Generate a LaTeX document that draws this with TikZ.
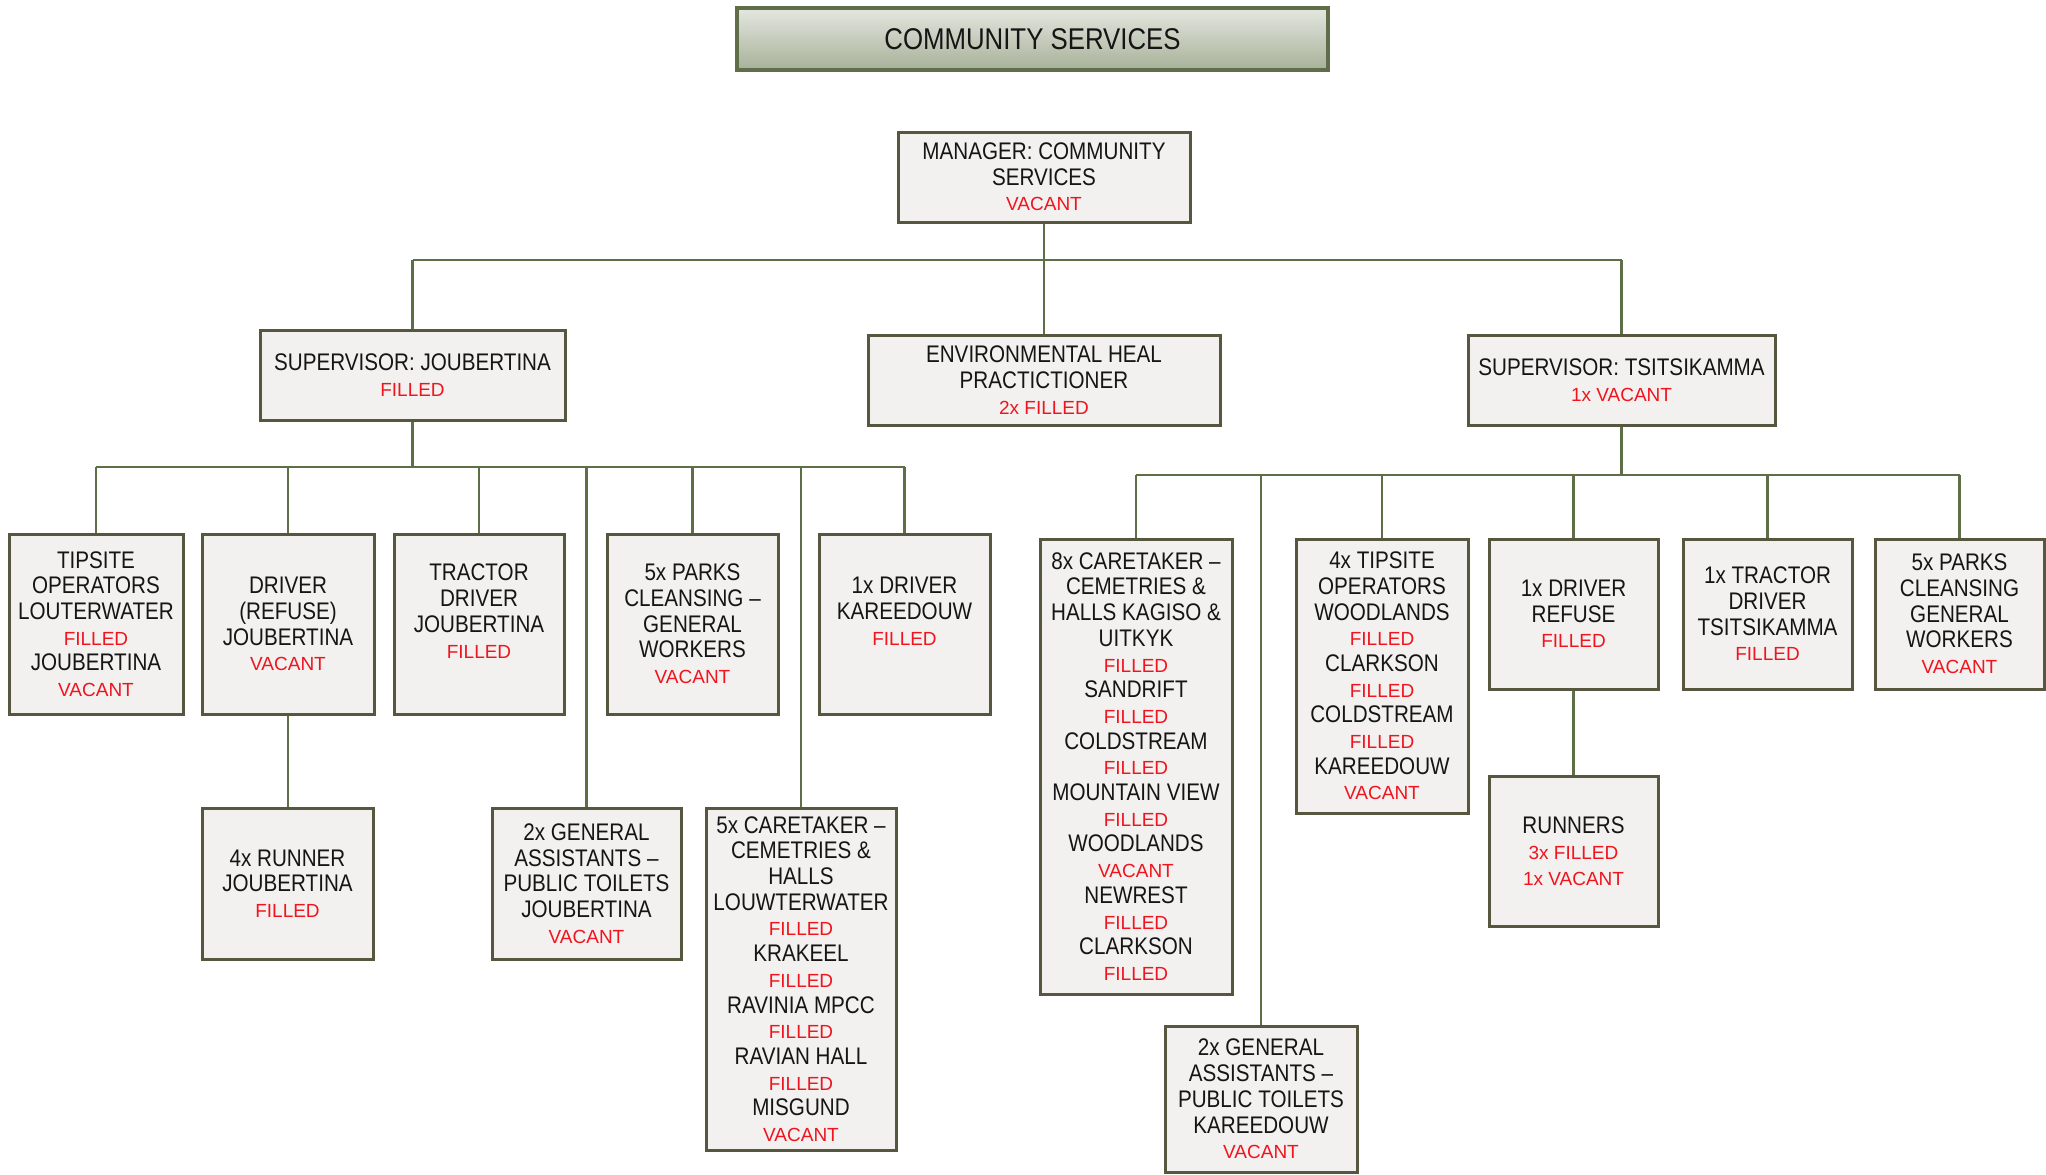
\documentclass[tikz,border=0pt]{standalone}
\usepackage{fontspec}
\setmainfont{Liberation Sans}[FakeStretch=0.86]
\newfontfamily\statusfont{Liberation Sans}
\definecolor{boxfill}{HTML}{F2F1EF}
\definecolor{boxline}{HTML}{57573F}
\definecolor{linkgreen}{HTML}{5E6E46}
\definecolor{titletop}{HTML}{E4E7E0}
\definecolor{titlebottom}{HTML}{A7B199}
\definecolor{titleline}{HTML}{5F6E48}
\definecolor{statred}{HTML}{F0141E}
\definecolor{ink}{HTML}{151515}
\newcommand\status[1]{{\statusfont\fontsize{9.5}{12.85}\selectfont\color{statred}#1}}
\pgfdeclarelayer{background}
\pgfsetlayers{background,main}
\tikzset{
  orgbox/.style={draw=boxline, line width=1.5pt, fill=boxfill, align=center,
    inner sep=1pt, text=ink, font=\fontsize{12}{12.85}\selectfont},
  titlebox/.style={draw=titleline, line width=1.6pt, top color=titletop,
    bottom color=titlebottom, text=ink, font=\fontsize{15}{18}\selectfont},
  link/.style={draw=linkgreen, line width=1.2pt},
}
\begin{document}
\begin{tikzpicture}[x=0.5pt, y=-0.5pt]
\useasboundingbox (0,0) rectangle (2046,1174);

% heading
\node[titlebox, minimum width=295.5pt, minimum height=31pt] (title) at (1032.5,39) {COMMUNITY SERVICES};

% top levels
\node[orgbox, minimum width=146pt, minimum height=45pt] (man) at (1044,177)
  {MANAGER: COMMUNITY\\SERVICES\\\status{VACANT}};
\node[orgbox, minimum width=152.5pt, minimum height=45pt] (supJ) at (412.5,375)
  {SUPERVISOR: JOUBERTINA\\\status{FILLED}};
\node[orgbox, minimum width=176pt, minimum height=45pt] (env) at (1044,380)
  {ENVIRONMENTAL HEAL\\PRACTICTIONER\\\status{2x FILLED}};
\node[orgbox, minimum width=153.5pt, minimum height=45pt] (supT) at (1621.5,380)
  {SUPERVISOR: TSITSIKAMMA\\\status{1x VACANT}};

% Joubertina branch
\node[orgbox, minimum width=87pt, minimum height=90pt] (tipJ) at (96,624)
  {TIPSITE\\OPERATORS\\LOUTERWATER\\\status{FILLED}\\JOUBERTINA\\\status{VACANT}};
\node[orgbox, minimum width=86pt, minimum height=90pt] (drvJ) at (288,624)
  {DRIVER\\(REFUSE)\\JOUBERTINA\\\status{VACANT}};
\node[orgbox, minimum width=85pt, minimum height=90pt] (traJ) at (479,624)
  {TRACTOR\\DRIVER\\JOUBERTINA\\\status{FILLED}\\\mbox{}};
\node[orgbox, minimum width=85.5pt, minimum height=90pt] (parkJ) at (692.5,624)
  {5x PARKS\\CLEANSING –\\GENERAL\\WORKERS\\\status{VACANT}};
\node[orgbox, minimum width=85.5pt, minimum height=90pt] (drvK) at (904.5,624)
  {1x DRIVER\\KAREEDOUW\\\status{FILLED}\\\mbox{}};
\node[orgbox, minimum width=85.5pt, minimum height=75.5pt] (runJ) at (287.5,883.5)
  {4x RUNNER\\JOUBERTINA\\\status{FILLED}};
\node[orgbox, minimum width=94.5pt, minimum height=75.5pt] (gaJ) at (586.5,883.5)
  {2x GENERAL\\ASSISTANTS –\\PUBLIC TOILETS\\JOUBERTINA\\\status{VACANT}};
\node[orgbox, minimum width=95pt, minimum height=171pt] (careJ) at (801,979)
  {5x CARETAKER –\\CEMETRIES \&\\HALLS\\LOUWTERWATER\\\status{FILLED}\\KRAKEEL\\\status{FILLED}\\RAVINIA MPCC\\\status{FILLED}\\RAVIAN HALL\\\status{FILLED}\\MISGUND\\\status{VACANT}};

% Tsitsikamma branch
\node[orgbox, minimum width=96pt, minimum height=227.5pt] (careT) at (1136,766.5)
  {8x CARETAKER –\\CEMETRIES \&\\HALLS KAGISO \&\\UITKYK\\\status{FILLED}\\SANDRIFT\\\status{FILLED}\\COLDSTREAM\\\status{FILLED}\\MOUNTAIN VIEW\\\status{FILLED}\\WOODLANDS\\\status{VACANT}\\NEWREST\\\status{FILLED}\\CLARKSON\\\status{FILLED}};
\node[orgbox, minimum width=96pt, minimum height=73pt] (gaK) at (1261,1099)
  {2x GENERAL\\ASSISTANTS –\\PUBLIC TOILETS\\KAREEDOUW\\\status{VACANT}};
\node[orgbox, minimum width=86pt, minimum height=137pt] (tipT) at (1382,676)
  {4x TIPSITE\\OPERATORS\\WOODLANDS\\\status{FILLED}\\CLARKSON\\\status{FILLED}\\COLDSTREAM\\\status{FILLED}\\KAREEDOUW\\\status{VACANT}};
\node[orgbox, minimum width=84.5pt, minimum height=75pt] (drvT) at (1573.5,614)
  {1x DRIVER\\REFUSE\\\status{FILLED}};
\node[orgbox, minimum width=84.5pt, minimum height=75pt] (runT) at (1573.5,851)
  {RUNNERS\\\status{3x FILLED}\\\status{1x VACANT}};
\node[orgbox, minimum width=84.5pt, minimum height=75pt] (traT) at (1767.5,614)
  {1x TRACTOR\\DRIVER\\TSITSIKAMMA\\\status{FILLED}};
\node[orgbox, minimum width=84.5pt, minimum height=75pt] (parkT) at (1959.5,614)
  {5x PARKS\\CLEANSING\\GENERAL\\WORKERS\\\status{VACANT}};

% connector buses
\coordinate (topbus) at (0,260);
\coordinate (jbus) at (0,467);
\coordinate (tbus) at (0,475);

\begin{pgfonlayer}{background}
  \draw[link] (man.south) -- (env.north);
  \draw[link] (supJ.north |- topbus) -- (supT.north |- topbus);
  \draw[link] (supJ.north) -- (supJ.north |- topbus);
  \draw[link] (supT.north) -- (supT.north |- topbus);

  \draw[link] (supJ.south) -- (supJ.south |- jbus);
  \draw[link] (tipJ.north |- jbus) -- (drvK.north |- jbus);
  \foreach \c in {tipJ,drvJ,traJ,gaJ,parkJ,careJ,drvK}
    \draw[link] (\c.north) -- (\c.north |- jbus);
  \draw[link] (drvJ.south) -- (drvJ.south |- runJ.north);

  \draw[link] (supT.south) -- (supT.south |- tbus);
  \draw[link] (careT.north |- tbus) -- (parkT.north |- tbus);
  \foreach \c in {careT,gaK,tipT,drvT,traT,parkT}
    \draw[link] (\c.north) -- (\c.north |- tbus);
  \draw[link] (drvT.south) -- (runT.north);
\end{pgfonlayer}
\end{tikzpicture}
\end{document}
